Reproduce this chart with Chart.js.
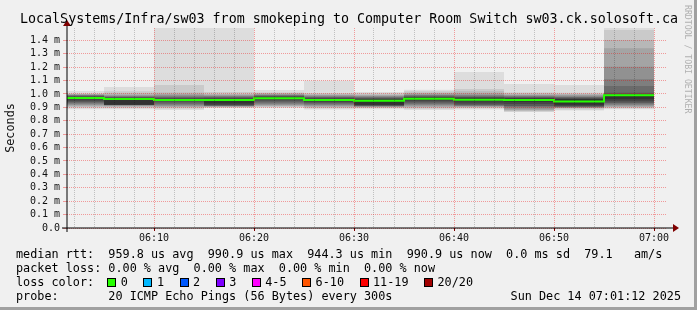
<!DOCTYPE html>
<html>
<head>
<meta charset="utf-8">
<title>sw03 smokeping</title>
<script src="https://cdn.jsdelivr.net/npm/chart.js"></script>
<style>
  html, body { margin: 0; padding: 0; }
  body { width: 697px; height: 310px; background: #f0f0f0; position: relative; overflow: hidden;
         font-family: 'DejaVu Sans Mono', monospace; color: #000; }
  #frame { position: absolute; left: 0; top: 0; width: 694px; height: 307px;
           border-right: 3px solid #a0a0a0; border-bottom: 3px solid #a0a0a0; }
  canvas { position: absolute; left: 0; top: 0; }
  .txt { position: absolute; white-space: pre; }
  #title { left: 20px; top: 10.7px; font-size: 13.33px; line-height: 16px; }
  .leg { left: 16px; font-size: 11.8px; line-height: 14px; }
  #stamp { right: 16px; left: auto; }
  #lossrow { display: flex; align-items: center; }
  #lossrow .box { width: 7px; height: 7px; border: 1px solid #000; margin-left: 15.5px; margin-right: 4.5px; }
  #lossrow .box.first { margin-left: 13.2px; }
  #credit { writing-mode: vertical-rl; font-size: 8.2px; line-height: 9px; color: #b0b0b0; left: 682.5px; top: 5px; }
</style>
</head>
<body>
<div id="frame"></div>
<canvas id="smoke" width="697" height="310"></canvas>
<div class="txt" id="title">LocalSystems/Infra/sw03 from smokeping to Computer Room Switch sw03.ck.solosoft.ca</div>
<div class="txt" id="credit">RRDTOOL / TOBI OETIKER</div>
<div class="txt leg" style="top:247px">median rtt:  959.8 us avg  990.9 us max  944.3 us min  990.9 us now  0.0 ms sd  79.1   am/s</div>
<div class="txt leg" style="top:261px">packet loss: 0.00 % avg  0.00 % max  0.00 % min  0.00 % now</div>
<div class="txt leg" id="lossrow" style="top:275px"><span>loss color:</span></div>
<div class="txt leg" style="top:289px">probe:       20 ICMP Echo Pings (56 Bytes) every 300s</div>
<div class="txt leg" id="stamp" style="top:289px">Sun Dec 14 07:01:12 2025</div>
<script>
// time in minutes after 06:00, one smokeping step = 300s
const stepStart = [0, 5, 10, 15, 20, 25, 30, 35, 40, 45, 50, 55];
const stepEnd = 60;
const xMin = 1.3, xMax = 61.3;   // 06:01:18 .. 07:01:18

// median rtt per step (ms)
const medianRtt = [0.970, 0.963, 0.955, 0.955, 0.968, 0.956, 0.950, 0.965, 0.957, 0.955, 0.944, 0.991];

// 20 sorted ping times per step (ms)
const pings = [
  [0.886, 0.897, 0.905, 0.912, 0.918, 0.925, 0.932, 0.940, 0.950, 0.962, 0.976, 0.980, 0.984, 0.988, 0.991, 0.994, 0.997, 1.000, 1.005, 1.022],
  [0.886, 0.895, 0.903, 0.910, 0.914, 0.916, 0.917, 0.918, 0.919, 0.920, 0.968, 0.972, 0.976, 0.980, 0.984, 0.988, 0.995, 1.005, 1.020, 1.052],
  [0.881, 0.892, 0.899, 0.905, 0.910, 0.917, 0.926, 0.936, 0.945, 0.951, 0.960, 0.966, 0.972, 0.978, 0.985, 0.993, 1.000, 1.012, 1.067, 1.700],
  [0.896, 0.900, 0.904, 0.907, 0.909, 0.911, 0.913, 0.915, 0.918, 0.930, 0.962, 0.968, 0.974, 0.979, 0.984, 0.989, 0.994, 1.000, 1.015, 1.650],
  [0.896, 0.903, 0.908, 0.913, 0.918, 0.925, 0.934, 0.944, 0.953, 0.962, 0.975, 0.980, 0.985, 0.989, 0.993, 0.997, 1.001, 1.006, 1.012, 1.030],
  [0.884, 0.893, 0.900, 0.906, 0.912, 0.918, 0.925, 0.933, 0.941, 0.949, 0.962, 0.968, 0.973, 0.978, 0.983, 0.988, 0.993, 1.000, 1.008, 1.099],
  [0.886, 0.895, 0.900, 0.904, 0.907, 0.909, 0.911, 0.913, 0.916, 0.920, 0.958, 0.964, 0.970, 0.975, 0.980, 0.985, 0.991, 0.997, 1.005, 1.015],
  [0.881, 0.890, 0.898, 0.905, 0.912, 0.920, 0.928, 0.937, 0.946, 0.955, 0.972, 0.977, 0.982, 0.987, 0.992, 0.997, 1.003, 1.010, 1.020, 1.032],
  [0.884, 0.893, 0.900, 0.905, 0.909, 0.912, 0.915, 0.920, 0.930, 0.945, 0.968, 0.973, 0.978, 0.983, 0.990, 0.997, 1.005, 1.020, 1.037, 1.164],
  [0.866, 0.870, 0.875, 0.880, 0.890, 0.900, 0.906, 0.910, 0.925, 0.943, 0.965, 0.970, 0.975, 0.980, 0.985, 0.990, 0.995, 1.003, 1.012, 1.075],
  [0.876, 0.885, 0.893, 0.898, 0.900, 0.902, 0.904, 0.906, 0.910, 0.920, 0.962, 0.967, 0.972, 0.977, 0.982, 0.988, 0.994, 1.000, 1.010, 1.067],
  [0.886, 0.893, 0.900, 0.905, 0.912, 0.920, 0.930, 0.935, 0.945, 0.960, 0.993, 0.998, 1.010, 1.060, 1.110, 1.204, 1.341, 1.403, 1.478, 1.600]
];

const xTickMinutes = [10, 20, 30, 40, 50, 60];
const xTickLabels = ['06:10', '06:20', '06:30', '06:40', '06:50', '07:00'];
const yTickValues = [0, 0.1, 0.2, 0.3, 0.4, 0.5, 0.6, 0.7, 0.8, 0.9, 1.0, 1.1, 1.2, 1.3, 1.4];
const yTickLabels = ['0.0', '0.1 m', '0.2 m', '0.3 m', '0.4 m', '0.5 m', '0.6 m', '0.7 m', '0.8 m', '0.9 m', '1.0 m', '1.1 m', '1.2 m', '1.3 m', '1.4 m'];
const yMax = 1.4925;

const lossLabels = ['0', '1', '2', '3', '4-5', '6-10', '11-19', '20/20'];
const lossColors = ['#26ff00', '#00b8ff', '#0059ff', '#7e00ff', '#ff00ff', '#ff5500', '#ff0000', '#a10000'];

// smoke shades, outer pair lightest
const smokeGray = ['#dddddd', '#cacaca', '#b7b7b7', '#a4a4a4', '#919191', '#7e7e7e', '#6b6b6b', '#585858', '#454545', '#323232'];

const FONT = "'DejaVu Sans Mono', monospace";
const gridRed = 'rgba(240, 0, 0, 0.36)';
const gridGray = 'rgba(0, 0, 0, 0.2)';

// loss colour legend row
const row = document.getElementById('lossrow');
lossLabels.forEach((lab, i) => {
    const b = document.createElement('span');
    b.className = i === 0 ? 'box first' : 'box';
    b.style.background = lossColors[i];
    row.appendChild(b);
    const t = document.createElement('span');
    t.textContent = lab;
    row.appendChild(t);
});

function stepped(values) {
    const pts = stepStart.map((t, k) => ({x: t, y: values[k]}));
    pts.push({x: stepEnd, y: values[values.length - 1]});
    return pts;
}

const datasets = [{
    label: 'median rtt',
    data: stepped(medianRtt),
    borderColor: lossColors[0],
    borderWidth: 2,
    fill: false
}];
// darkest pair first in the list so that it is painted last
for (let b = 9; b >= 0; b--) {
    datasets.push({
        label: 'lo' + b,
        data: stepped(pings.map(p => p[b])),
        borderWidth: 0,
        borderColor: 'transparent',
        fill: false
    });
    datasets.push({
        label: 'hi' + b,
        data: stepped(pings.map(p => p[19 - b])),
        borderWidth: 0,
        borderColor: 'transparent',
        backgroundColor: smokeGray[b],
        fill: '-1'
    });
}

// axis lines with the rrdtool arrows
const axisArrows = {
    id: 'axisArrows',
    afterDraw(chart) {
        const {ctx, chartArea: a} = chart;
        ctx.save();
        ctx.strokeStyle = '#000';
        ctx.lineWidth = 1;
        ctx.beginPath();
        ctx.moveTo(a.left - 5, a.bottom);
        ctx.lineTo(a.right + 6, a.bottom);
        ctx.moveTo(a.left, a.bottom + 4);
        ctx.lineTo(a.left, a.top - 2);
        ctx.stroke();
        ctx.fillStyle = '#7f0000';
        ctx.beginPath();
        ctx.moveTo(a.right + 6, a.bottom - 4);
        ctx.lineTo(a.right + 12, a.bottom);
        ctx.lineTo(a.right + 6, a.bottom + 4);
        ctx.closePath();
        ctx.fill();
        ctx.beginPath();
        ctx.moveTo(a.left - 4, a.top - 2);
        ctx.lineTo(a.left, a.top - 8);
        ctx.lineTo(a.left + 4, a.top - 2);
        ctx.closePath();
        ctx.fill();
        ctx.restore();
    }
};

new Chart(document.getElementById('smoke'), {
    type: 'line',
    data: { datasets: datasets },
    plugins: [axisArrows],
    options: {
        responsive: false,
        animation: false,
        devicePixelRatio: 1,
        layout: { padding: { left: 0, top: 28, right: 30, bottom: 0 } },
        elements: { point: { radius: 0 }, line: { stepped: true, tension: 0 } },
        plugins: {
            legend: { display: false },
            tooltip: { enabled: false },
            filler: { propagate: false }
        },
        scales: {
            x: {
                type: 'linear',
                min: xMin,
                max: xMax,
                afterBuildTicks: axis => {
                    const t = [];
                    for (let m = 2; m <= 60; m += 2) t.push({value: m});
                    axis.ticks = t;
                },
                afterFit: s => { s.height = 82; },
                grid: {
                    z: 1,
                    color: c => xTickMinutes.includes(c.tick.value) ? gridRed : gridGray,
                    tickLength: 3,
                    tickColor: c => xTickMinutes.includes(c.tick.value) ? '#7f0000' : 'transparent'
                },
                border: { display: false, dash: [1, 1] },
                ticks: {
                    autoSkip: false,
                    maxRotation: 0,
                    padding: 1,
                    color: '#111',
                    font: { family: FONT, size: 10 },
                    callback: v => {
                        const i = xTickMinutes.indexOf(v);
                        return i < 0 ? '' : xTickLabels[i];
                    }
                }
            },
            y: {
                min: 0,
                max: yMax,
                afterBuildTicks: axis => { axis.ticks = yTickValues.map(v => ({value: v})); },
                afterFit: s => { s.width = 67; },
                grid: { z: 1, color: gridRed, tickLength: 4, tickColor: gridRed },
                border: { display: false, dash: [1, 1] },
                ticks: {
                    autoSkip: false,
                    padding: 3,
                    color: '#111',
                    font: { family: FONT, size: 10 },
                    callback: (v, i) => yTickLabels[i]
                },
                title: {
                    display: true,
                    text: 'Seconds',
                    color: '#111',
                    font: { family: FONT, size: 11.8 },
                    padding: { top: 4, bottom: 0 }
                }
            }
        }
    }
});
</script>
</body>
</html>
